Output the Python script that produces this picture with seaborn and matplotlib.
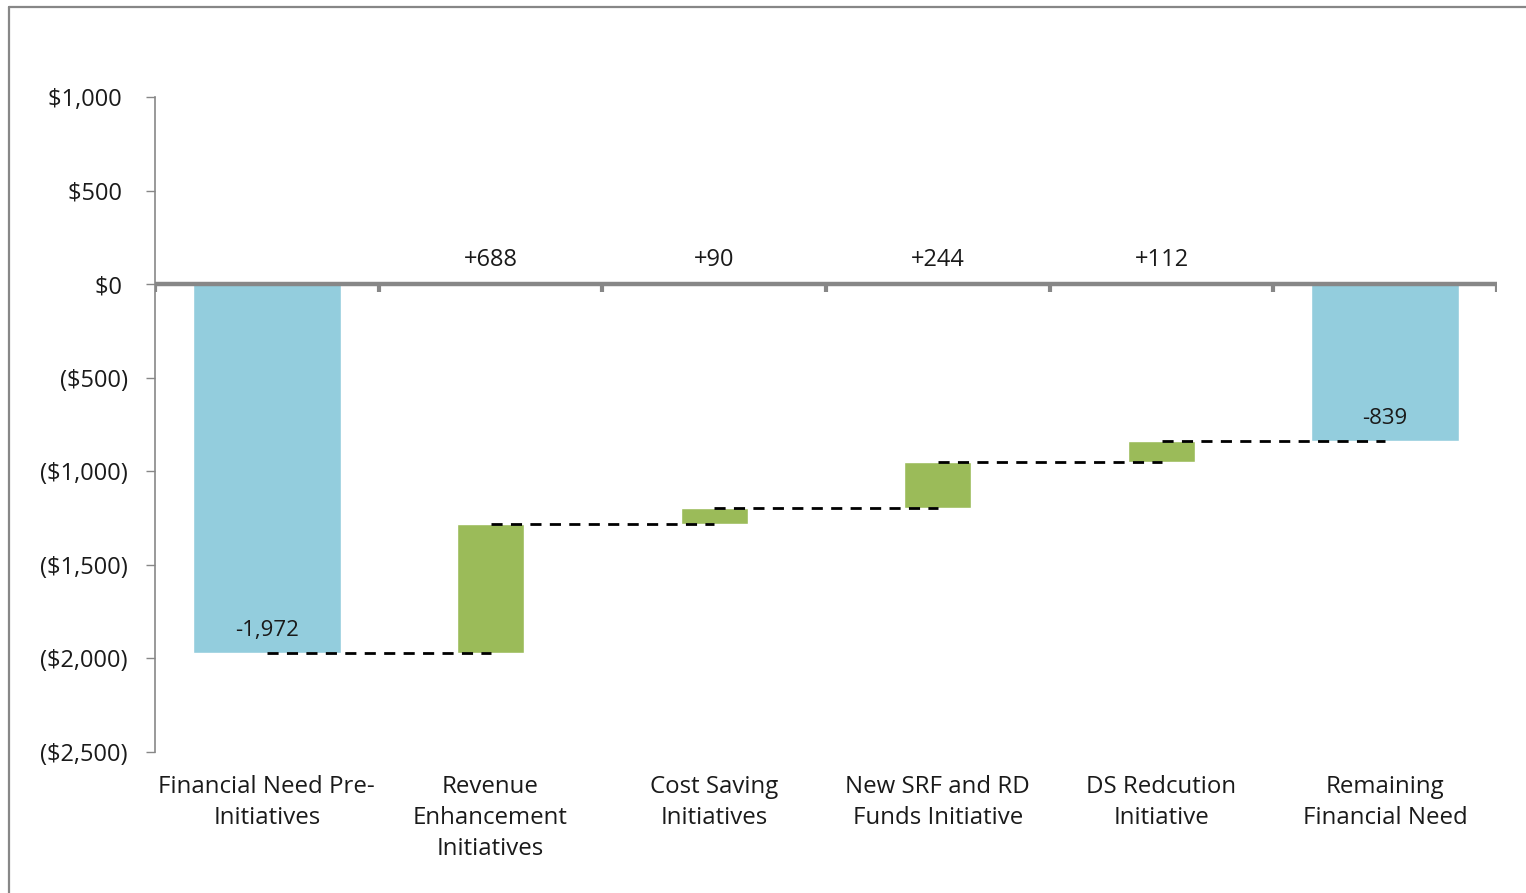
import numpy as np
import pandas as pd
import matplotlib
matplotlib.use("Agg")
import matplotlib.pyplot as plt
from matplotlib.lines import Line2D
import seaborn as sns

# ---- data ----
categories = ["Financial Need Pre-\nInitiatives", "Revenue\nEnhancement\nInitiatives",
              "Cost Saving\nInitiatives", "New SRF and RD\nFunds Initiative",
              "DS Redcution\nInitiative", "Remaining\nFinancial Need"]
start_total = -1972
changes = [688, 90, 244, 112]
end_total = -839
change_labels = ["+688", "+90", "+244", "+112"]
total_labels = ["-1,972", "-839"]
yticks = [1000, 500, 0, -500, -1000, -1500, -2000, -2500]

sns.set_theme(style="white")
plt.rcParams['font.family'] = ['Open Sans', 'DejaVu Sans']

BLUE = "#93CDDD"
GREEN = "#9BBB59"
GRAY = "#878787"
TXT = "#1a1a1a"

fig = plt.figure(figsize=(15.26, 8.93), dpi=100)
W, H = 1526, 893
ax = fig.add_axes([155 / W, 1 - 752 / H, (1497 - 155) / W, (752 - 97) / H])

# totals
tot_df = pd.DataFrame({"cat": [categories[0], categories[-1]],
                       "val": [start_total, end_total]})
# floating changes
levels = np.concatenate([[start_total], start_total + np.cumsum(changes)])
chg_df = pd.DataFrame({"cat": categories[1:5], "val": changes})

order = categories
sns.barplot(data=tot_df, x="cat", y="val", order=order, color=BLUE,
            width=0.66, saturation=1, ax=ax, errorbar=None)
sns.barplot(data=chg_df, x="cat", y="val", order=order, color=GREEN,
            width=0.30, saturation=1, ax=ax, errorbar=None,
            bottom=list(levels[:-1]))

# connectors
for i, lv in enumerate(levels):
    ax.plot([i, i + 1], [lv, lv], color="black", lw=2.0, ls=(0, (4, 3)),
            zorder=5, dash_capstyle="butt")

ax.set_xlim(-0.5, 5.5)
ax.set_ylim(-2500, 1000)

# zero line with category boundary ticks
ax.axhline(0, color=GRAY, lw=3.2, zorder=6)
for b in np.arange(-0.5, 6.0, 1.0):
    ax.plot([b, b], [0, -40], color=GRAY, lw=3, zorder=6, solid_capstyle="butt")

# spines
for s in ["top", "right", "bottom"]:
    ax.spines[s].set_visible(False)
ax.spines["left"].set_color(GRAY)
ax.spines["left"].set_linewidth(1.2)

def fmt(v):
    if v < 0:
        return "(${:,.0f})".format(-v)
    return "${:,.0f} ".format(v)

ax.set_yticks(yticks)
ax.set_yticklabels([fmt(v) for v in yticks])
ax.tick_params(axis="y", which="major", left=True, length=6.5, width=1.0,
               color=GRAY, pad=13, labelsize=17, labelcolor=TXT)
ax.set_xticks([])
ax.set_xlabel("")
ax.set_ylabel("")

# category labels at bottom
for i, c in enumerate(categories):
    ax.annotate(c, xy=(i, 0), xycoords=("data", "axes fraction"),
                xytext=(0, -23), textcoords="offset pixels",
                ha="center", va="top", fontsize=17.3, color=TXT,
                linespacing=1.38)

# change labels above zero line
for i, t in enumerate(change_labels):
    ax.annotate(t, xy=(i + 1, 0), xytext=(0, 24), textcoords="offset pixels",
                ha="center", va="center", fontsize=17, color=TXT)

# total labels inside bars near bottom
for i, (v, t) in zip([0, 5], zip([start_total, end_total], total_labels)):
    ax.annotate(t, xy=(i, v), xytext=(0, 23), textcoords="offset pixels",
                ha="center", va="center", fontsize=16, color=TXT, zorder=7)

# outer frame
fig.add_artist(Line2D([8.5 / W, 8.5 / W], [0, 1 - 6.5 / H], color=GRAY, lw=1.6,
                      transform=fig.transFigure))
fig.add_artist(Line2D([8.5 / W, 1], [1 - 6.5 / H, 1 - 6.5 / H], color=GRAY, lw=1.6,
                      transform=fig.transFigure))

fig.savefig("out.png", dpi=100)
